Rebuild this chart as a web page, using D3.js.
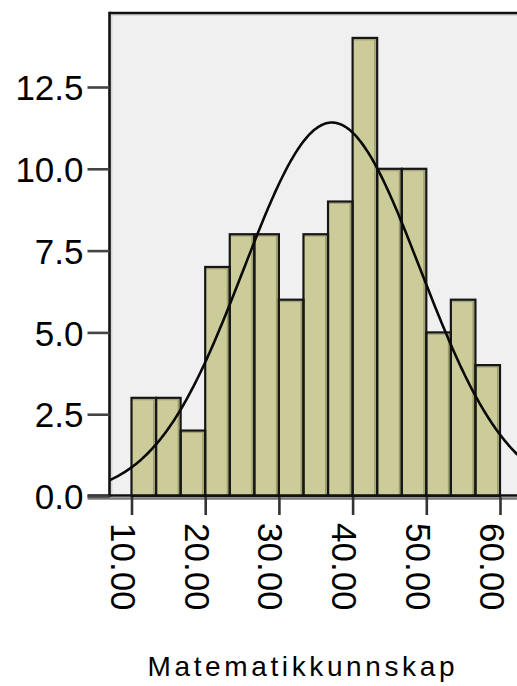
<!DOCTYPE html>
<html>
<head>
<meta charset="utf-8">
<script src="https://cdn.jsdelivr.net/npm/d3@7"></script>
<style>
  html, body { margin: 0; padding: 0; background: #ffffff; }
  svg { display: block; }
  text { font-family: "Liberation Sans", Arial, sans-serif; fill: #000; }
</style>
</head>
<body>
<svg id="chart" width="517" height="686"></svg>
<script>
// ---- data ----
const binStart = 10;
const binEnd = 60;
const counts = [3, 3, 2, 7, 8, 8, 6, 8, 9, 14, 10, 10, 5, 6, 4];
const yTicks = [0, 2.5, 5, 7.5, 10, 12.5];
const xTicks = [10, 20, 30, 40, 50, 60];
const xTitle = "Matematikkunnskap";
// fitted normal curve parameters (SPSS "normal curve" overlay)
const curveMean = 37.2;
const curveSd = 12.0;

// ---- layout ----
const svg = d3.select("#chart");
const x = d3.scaleLinear().domain([10, 60]).range([131.5, 500]);
const y = d3.scaleLinear().domain([0, 12.5]).range([496, 87]);
const plotLeft = 109.5, plotTop = 13, plotRight = 540, plotBottom = y(0);

const binW = (binEnd - binStart) / counts.length;
const N = d3.sum(counts);
const bins = counts.map((c, i) => ({ x0: binStart + i * binW, x1: binStart + (i + 1) * binW, c }));

// plot background
svg.append("rect")
  .attr("x", plotLeft).attr("y", plotTop)
  .attr("width", plotRight - plotLeft).attr("height", plotBottom - plotTop)
  .attr("fill", "#f0f0f0");
// inner light strips near top/left border
svg.append("rect").attr("x", plotLeft + 1).attr("y", plotTop + 1)
  .attr("width", plotRight - plotLeft).attr("height", 2).attr("fill", "#d6d6d6");
svg.append("rect").attr("x", plotLeft + 1).attr("y", plotTop + 1)
  .attr("width", 2).attr("height", plotBottom - plotTop).attr("fill", "#d6d6d6");

// clip
svg.append("clipPath").attr("id", "clip").append("rect")
  .attr("x", plotLeft).attr("y", plotTop)
  .attr("width", plotRight - plotLeft).attr("height", plotBottom - plotTop);

// bars
const barG = svg.append("g");
barG.selectAll("rect.bar").data(bins).enter().append("rect")
  .attr("class", "bar")
  .attr("x", d => x(d.x0))
  .attr("y", d => y(d.c))
  .attr("width", d => x(d.x1) - x(d.x0))
  .attr("height", d => y(0) - y(d.c))
  .attr("fill", "#cccc9a");
// darker inner strips (right and top)
barG.selectAll("rect.shadeR").data(bins).enter().append("rect")
  .attr("x", d => x(d.x1) - 3)
  .attr("y", d => y(d.c))
  .attr("width", 1.5)
  .attr("height", d => y(0) - y(d.c))
  .attr("fill", "#9c9c6c");
barG.selectAll("rect.shadeT").data(bins).enter().append("rect")
  .attr("x", d => x(d.x0))
  .attr("y", d => y(d.c) + 1)
  .attr("width", d => x(d.x1) - x(d.x0))
  .attr("height", 1.5)
  .attr("fill", "#a6a47c");
barG.selectAll("rect.outline").data(bins).enter().append("rect")
  .attr("x", d => x(d.x0))
  .attr("y", d => y(d.c))
  .attr("width", d => x(d.x1) - x(d.x0))
  .attr("height", d => y(0) - y(d.c))
  .attr("fill", "none")
  .attr("stroke", "#161616")
  .attr("stroke-width", 2.2);

// normal curve
const scaleF = N * binW / (curveSd * Math.sqrt(2 * Math.PI));
const xs = d3.range(x.invert(plotLeft), x.invert(plotRight), 0.2);
const line = d3.line()
  .x(v => x(v))
  .y(v => y(scaleF * Math.exp(-0.5 * Math.pow((v - curveMean) / curveSd, 2))))
  .curve(d3.curveLinear);
svg.append("path")
  .attr("clip-path", "url(#clip)")
  .attr("d", line(xs))
  .attr("fill", "none")
  .attr("stroke", "#0a0a0a")
  .attr("stroke-width", 2.6);

// plot frame: top and left black
svg.append("line").attr("x1", plotLeft).attr("x2", plotRight)
  .attr("y1", plotTop).attr("y2", plotTop)
  .attr("stroke", "#111").attr("stroke-width", 2.6);
svg.append("line").attr("x1", plotLeft).attr("x2", plotLeft)
  .attr("y1", plotTop - 1.3).attr("y2", plotBottom + 1)
  .attr("stroke", "#111").attr("stroke-width", 2.6);

// x axis line (dark + gray)
svg.append("line").attr("x1", plotLeft - 22).attr("x2", plotRight)
  .attr("y1", plotBottom - 0.5).attr("y2", plotBottom - 0.5)
  .attr("stroke", "#111").attr("stroke-width", 2.5);
svg.append("line").attr("x1", plotLeft - 22).attr("x2", plotRight)
  .attr("y1", plotBottom + 2.5).attr("y2", plotBottom + 2.5)
  .attr("stroke", "#7a7a7a").attr("stroke-width", 2.5);

// y axis
const yAxis = d3.axisLeft(y).tickValues(yTicks).tickFormat(d3.format(".1f"))
  .tickSize(22).tickPadding(4);
const yg = svg.append("g").attr("transform", `translate(${plotLeft},0)`).call(yAxis);
yg.select(".domain").remove();
yg.selectAll(".tick line").attr("stroke", "#444").attr("stroke-width", 2.6);
yg.selectAll(".tick text")
  .style("font-family", "'Liberation Sans', Arial, sans-serif")
  .style("font-size", "35px")
  .attr("fill", "#000")
  .attr("dy", "0.36em");

// x axis ticks
const xAxis = d3.axisBottom(x).tickValues(xTicks).tickFormat(d3.format(".2f"))
  .tickSize(18).tickPadding(0);
const xg = svg.append("g").attr("transform", `translate(0,${plotBottom + 1})`).call(xAxis);
xg.select(".domain").remove();
xg.selectAll(".tick line").attr("stroke", "#333").attr("stroke-width", 2.6);
xg.selectAll(".tick text")
  .style("font-family", "'Liberation Sans', Arial, sans-serif")
  .style("font-size", "35px")
  .attr("fill", "#000")
  .attr("text-anchor", "start")
  .attr("transform", "translate(0,26) rotate(90)")
  .attr("x", 0)
  .attr("y", 0)
  .attr("dy", "0.6em");

// x title
svg.append("text")
  .attr("x", 301).attr("y", 676)
  .attr("text-anchor", "middle")
  .style("font-size", "28px")
  .attr("textLength", 307)
  .attr("lengthAdjust", "spacing")
  .text(xTitle);
</script>
</body>
</html>
